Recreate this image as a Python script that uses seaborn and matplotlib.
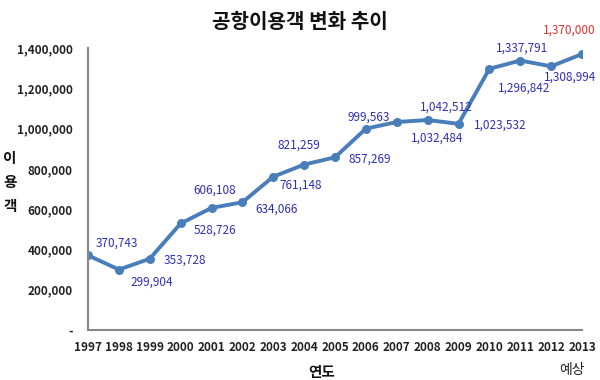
import matplotlib
matplotlib.use("Agg")
import matplotlib.pyplot as plt
import seaborn as sns
import pandas as pd
from matplotlib.ticker import FuncFormatter

years = [1997, 1998, 1999, 2000, 2001, 2002, 2003, 2004, 2005, 2006, 2007, 2008, 2009, 2010, 2011, 2012, 2013]
passengers = [370743, 299904, 353728, 528726, 606108, 634066, 761148, 821259, 857269, 999563,
              1032484, 1042512, 1023532, 1296842, 1337791, 1308994, 1370000]
# label offsets in pixels (dx, dy; dy positive = downward)
label_offsets = [(29, -12), (33, 13), (35, 1), (34, 7), (3, -18), (34, 7), (27, 8), (-5, -19),
                 (35, 2), (3, -12), (40, 16), (19, -13), (42, 1), (35, 19), (2, -12), (19, 11), (-13, -24)]
title = "공항이용객 변화 추이"
xlabel = "연도"
ylabel = "이\n용\n객"
forecast_note = "예상"

sns.set_theme(style="white")
plt.rcParams['font.family'] = ['Noto Sans CJK KR', 'DejaVu Sans']

df = pd.DataFrame({"year": years, "value": passengers})

fig = plt.figure(figsize=(6, 3.8), dpi=100)
ax = fig.add_axes([88/600, 1-330/380, (582-88)/600, (330-48)/380])

sns.lineplot(data=df, x="year", y="value", ax=ax, color="#4a7ebb", linewidth=2.8,
             marker="o", markersize=6.5, markeredgewidth=0)

ax.set_xlim(1997, 2013)
ax.set_ylim(0, 1400000)
ax.set_xticks(years)
ax.set_xticklabels([str(y) for y in years])
ax.set_yticks(range(0, 1400001, 200000))
ax.yaxis.set_major_formatter(FuncFormatter(lambda v, p: "-" if v == 0 else f"{int(v):,}"))

for sp in ["top", "right"]:
    ax.spines[sp].set_visible(False)
for sp in ["left", "bottom"]:
    ax.spines[sp].set_color("#888888")
    ax.spines[sp].set_linewidth(1.5)

ax.tick_params(axis="both", which="major", length=5, width=1.2, color="#888888",
               direction="out", labelsize=8.5, labelcolor="#222222")
ax.tick_params(axis="x", pad=3)
ax.tick_params(axis="y", pad=6)
for lbl in ax.get_xticklabels() + ax.get_yticklabels():
    lbl.set_fontweight("bold")

ax.set_xlabel("")
ax.set_ylabel("")

for i, (yr, val) in enumerate(zip(years, passengers)):
    dx, dy = label_offsets[i]
    color = "#e03030" if i == len(years) - 1 else "#2f2fb8"
    ax.annotate(f"{val:,}", xy=(yr, val), xytext=(dx * 0.72, -dy * 0.72),
                textcoords="offset points", ha="center", va="center",
                fontsize=8.5, color=color, annotation_clip=False)

fig.text(300/600, 1-22/380, title, ha="center", va="center", fontsize=14.5, fontweight="bold", color="#111111")
fig.text(322/600, 1-372/380, xlabel, ha="center", va="center", fontsize=10.5, fontweight="bold", color="#111111")
fig.text(10/600, 1-182/380, ylabel, ha="center", va="center", fontsize=10.5, fontweight="bold",
         color="#111111", linespacing=1.65)
fig.text(572/600, 1-370/380, forecast_note, ha="center", va="center", fontsize=10, color="#222222")

fig.savefig("out.png", dpi=100)
